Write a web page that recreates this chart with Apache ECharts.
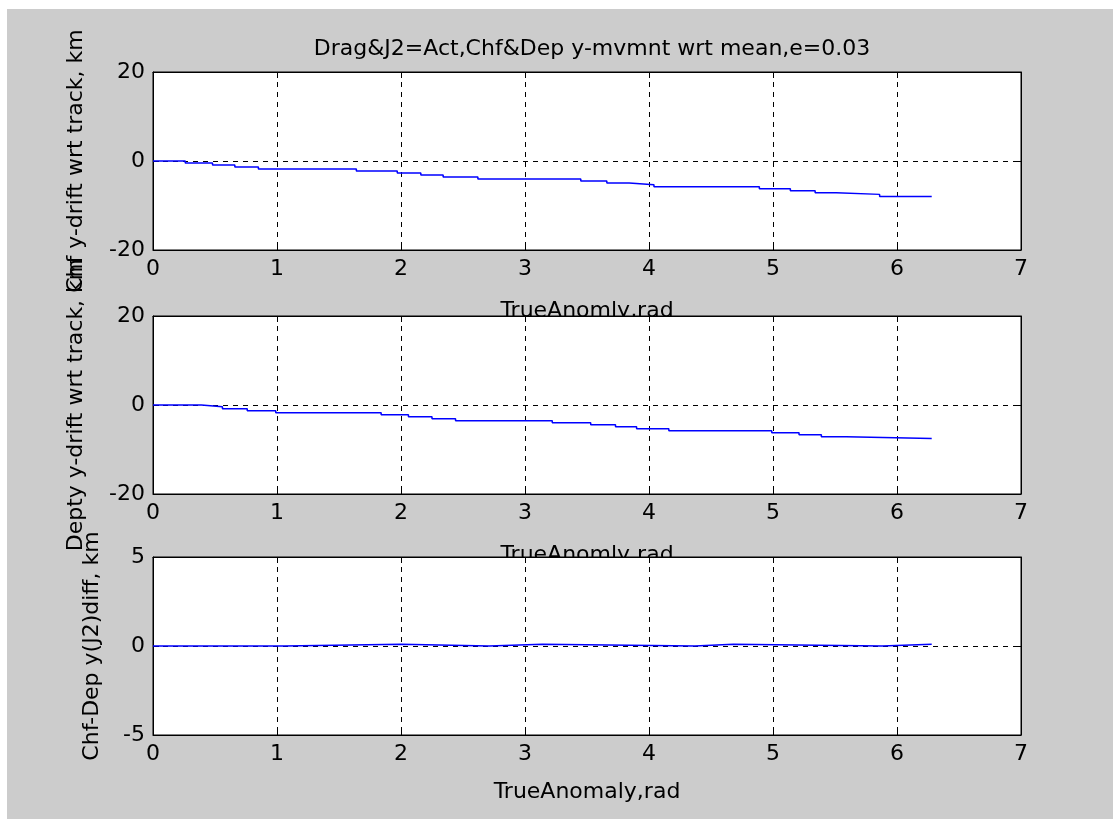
<!DOCTYPE html>
<html>
<head>
<meta charset="utf-8">
<script src="https://cdn.jsdelivr.net/npm/echarts@6/dist/echarts.min.js"></script>
<style>
  body { margin: 0; background: #fff; }
  #main { position: absolute; left: 7px; top: 9px; width: 1106px; height: 810px; }
</style>
</head>
<body>
<div id="main"></div>
<script>
/*#################    data  #####################*/
// step breakpoints: x in rad, value holds until next breakpoint
var chfX = [0, 0.26, 0.48, 0.66, 0.85, 1.64, 1.97, 2.16, 2.34, 2.62, 3.45, 3.66, 3.84, 4.04, 4.89, 5.14, 5.34, 5.51, 5.86, 6.28];
var chfY = [0, -0.45, -0.9, -1.35, -1.8, -2.25, -2.7, -3.15, -3.6, -4.05, -4.5, -4.95, -5.35, -5.8, -6.25, -6.7, -7.15, -7.5, -7.95, -7.95];

var depX = [0, 0.39, 0.56, 0.76, 0.99, 1.84, 2.06, 2.25, 2.44, 3.22, 3.53, 3.73, 3.9, 4.16, 4.99, 5.21, 5.39, 5.59, 6.28];
var depY = [0, -0.4, -0.85, -1.3, -1.75, -2.2, -2.65, -3.1, -3.55, -4.0, -4.45, -4.9, -5.35, -5.8, -6.25, -6.7, -7.15, -7.55, -7.55];

var diffX = [0, 1.06, 2.0, 2.71, 3.14, 4.37, 4.68, 5.88, 6.28];
var diffY = [0, 0.1, 0, 0.1, 0, 0.1, 0, 0.1, 0.1];

var titleText = 'Drag&J2=Act,Chf&Dep y-mvmnt wrt mean,e=0.03';
var yNames = ['Chf y-drift wrt track, km', 'Depty y-drift wrt track, km', 'Chf-Dep y(J2)diff, km'];
var xNames = ['TrueAnomly,rad', 'TrueAnomly,rad', 'TrueAnomaly,rad'];
var yRanges = [[-20, 20, 20], [-20, 20, 20], [-5, 5, 5]];

/*#################    layout  #####################*/
var FONT = 'DejaVu Sans';
var FS = 22;
var gridTops = [63, 307, 548];
var xNameGaps = [50, 50, 46];
var yNameGaps = [66, 66, 50];

function pairs(xs, ys) {
    var out = [];
    for (var i = 0; i < xs.length; i++) out.push([xs[i], ys[i]]);
    return out;
}

var grids = [], xAxes = [], yAxes = [], series = [];
var dataSets = [pairs(chfX, chfY), pairs(depX, depY), pairs(diffX, diffY)];

for (var i = 0; i < 3; i++) {
    grids.push({
        left: 146, top: gridTops[i], width: 868, height: 178,
        show: true, backgroundColor: '#fff', borderColor: '#000', borderWidth: 1,
        z: i * 3
    });
    // bottom x axis with labels + grid
    xAxes.push({
        gridIndex: i, type: 'value', min: 0, max: 7, interval: 1, z: i * 3 + 1,
        name: xNames[i], nameLocation: 'middle', nameGap: xNameGaps[i],
        nameTextStyle: { color: '#000', fontFamily: FONT, fontSize: FS },
        axisLine: { show: true, onZero: false, lineStyle: { color: '#000', width: 1 } },
        axisTick: { show: true, inside: true, length: 6, lineStyle: { color: '#000' } },
        axisLabel: { color: '#000', fontFamily: FONT, fontSize: FS, margin: 8 },
        splitLine: { show: true, lineStyle: { color: '#000', type: [5, 5], width: 1 } }
    });
    // top x axis ticks only
    xAxes.push({
        gridIndex: i, type: 'value', position: 'top', min: 0, max: 7, interval: 1, z: i * 3 + 1,
        axisLine: { show: true, onZero: false, lineStyle: { color: '#000' } },
        axisTick: { show: true, inside: true, length: 6, lineStyle: { color: '#000' } },
        axisLabel: { show: false },
        splitLine: { show: false }
    });
    yAxes.push({
        gridIndex: i, type: 'value', min: yRanges[i][0], max: yRanges[i][1], interval: yRanges[i][2], z: i * 3 + 1,
        name: yNames[i], nameLocation: 'middle', nameRotate: 90, nameGap: yNameGaps[i],
        nameTextStyle: { color: '#000', fontFamily: FONT, fontSize: FS },
        axisLine: { show: true, onZero: false, lineStyle: { color: '#000', width: 1 } },
        axisTick: { show: true, inside: true, length: 6, lineStyle: { color: '#000' } },
        axisLabel: { color: '#000', fontFamily: FONT, fontSize: FS, margin: 8 },
        splitLine: { show: true, lineStyle: { color: '#000', type: [5, 5], width: 1 } }
    });
    yAxes.push({
        gridIndex: i, type: 'value', position: 'right', min: yRanges[i][0], max: yRanges[i][1], interval: yRanges[i][2], z: i * 3 + 1,
        axisLine: { show: true, onZero: false, lineStyle: { color: '#000' } },
        axisTick: { show: true, inside: true, length: 6, lineStyle: { color: '#000' } },
        axisLabel: { show: false },
        splitLine: { show: false }
    });
    series.push({
        type: 'line', step: 'end', xAxisIndex: i * 2, yAxisIndex: i * 2,
        data: dataSets[i], showSymbol: false, z: i * 3 + 2,
        lineStyle: { color: '#0000ff', width: 1.5 },
        itemStyle: { color: '#0000ff' }
    });
}

var dom = document.getElementById("main");
var myChart = echarts.init(dom);
var option = {
    backgroundColor: '#cccccc',
    animation: false,
    title: {
        text: titleText, left: 580, top: 24, textAlign: 'center',
        textStyle: { color: '#000', fontFamily: FONT, fontSize: FS, fontWeight: 'normal' }
    },
    grid: grids,
    xAxis: xAxes,
    yAxis: yAxes,
    series: series
};
myChart.setOption(option);
</script>
</body>
</html>
